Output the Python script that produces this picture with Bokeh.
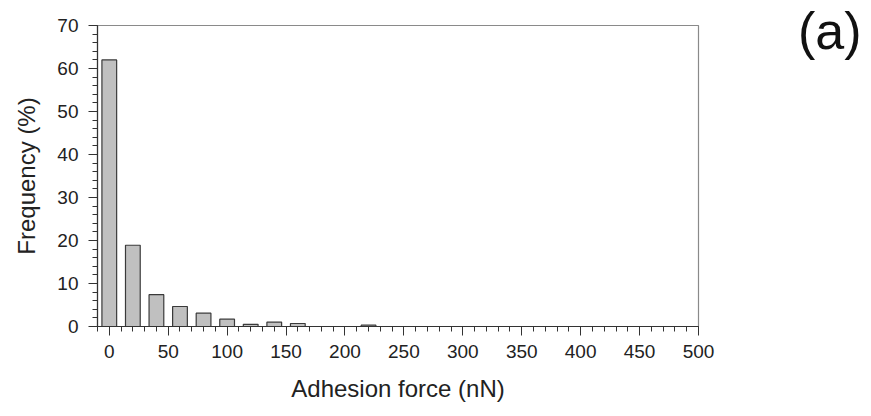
from bokeh.plotting import figure
from bokeh.models import FixedTicker, Range1d, Div, ColumnDataSource
from bokeh.layouts import row
from bokeh.embed import file_html
from bokeh.resources import INLINE

# Data (bin centres in nN, frequency in %)
bin_centers = [0, 20, 40, 60, 80, 100, 120, 140, 160, 180, 200, 220]
frequency = [62.0, 18.9, 7.4, 4.65, 3.1, 1.7, 0.5, 1.0, 0.7, 0.0, 0.0, 0.3]
x_ticks = [0, 50, 100, 150, 200, 250, 300, 350, 400, 450, 500]
y_ticks = [0, 10, 20, 30, 40, 50, 60, 70]

FONT = "Liberation Sans"

p = figure(width=740, height=416, output_backend="svg", toolbar_location=None,
           x_range=Range1d(-10, 500), y_range=Range1d(0, 70),
           min_border_left=97, min_border_right=42, min_border_top=25,
           min_border_bottom=90, margin=0)
p.xgrid.visible = False
p.ygrid.visible = False
p.outline_line_color = "#8a8a8a"
p.outline_line_width = 1.2
p.background_fill_color = "white"
p.border_fill_color = "white"

src = ColumnDataSource(dict(x=bin_centers, top=frequency))
p.vbar(x="x", top="top", bottom=0, width=12.5, source=src,
       fill_color="#c0c0c0", line_color="#3a3a3a", line_width=1.2)

for ax in (p.xaxis[0], p.yaxis[0]):
    ax.axis_line_color = "#333333"
    ax.axis_line_width = 1.2
    ax.major_tick_line_color = "#333333"
    ax.minor_tick_line_color = "#333333"
    ax.major_tick_out = 9
    ax.major_tick_in = 0
    ax.minor_tick_out = 5
    ax.minor_tick_in = 0
    ax.major_label_text_font = FONT
    ax.major_label_text_font_size = "19px"
    ax.major_label_text_color = "#222222"
    ax.axis_label_text_font = FONT
    ax.axis_label_text_font_size = "24px"
    ax.axis_label_text_font_style = "normal"
    ax.axis_label_text_color = "#222222"

p.xaxis[0].ticker = FixedTicker(ticks=x_ticks,
                                minor_ticks=list(range(-10, 501, 10)))
p.yaxis[0].ticker = FixedTicker(ticks=y_ticks,
                                minor_ticks=list(range(0, 71, 2)))
p.xaxis[0].axis_label = "Adhesion force (nN)"
p.yaxis[0].axis_label = "Frequency (%)"
p.xaxis[0].major_label_standoff = 9
p.yaxis[0].major_label_standoff = 10
p.xaxis[0].axis_label_standoff = 14
p.yaxis[0].axis_label_standoff = 14

tag = Div(text="(a)", width=131, height=416, margin=0,
          styles={"font-family": "'Liberation Sans', Arial, sans-serif",
                  "font-size": "52px", "line-height": "1",
                  "color": "#111111", "padding-left": "58px",
                  "padding-top": "5px", "box-sizing": "border-box"})

layout = row(p, tag, margin=0)

open("out.html", "w").write(file_html(layout, INLINE))
